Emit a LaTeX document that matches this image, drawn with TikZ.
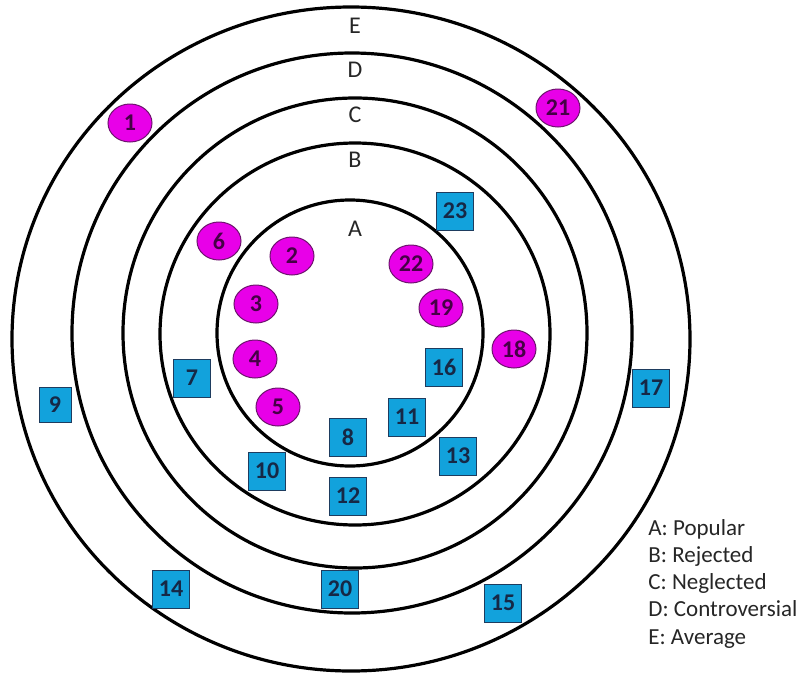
\documentclass[tikz,border=0pt]{standalone}
\usepackage{fontspec}
\setmainfont{Carlito}
\usepackage{tikz}
\usetikzlibrary{shapes.geometric}

\definecolor{pinkfill}{RGB}{232,0,232}
\definecolor{pinkline}{RGB}{110,20,110}
\definecolor{pinktext}{RGB}{70,0,70}
\definecolor{bluefill}{RGB}{18,162,220}
\definecolor{blueline}{RGB}{30,60,95}
\definecolor{bluetext}{RGB}{22,40,70}
\definecolor{keygray}{RGB}{38,38,38}

\begin{document}
\begin{tikzpicture}[x=0.5pt,y=-0.5pt,
	ring/.style={line width=1.6pt},
	circ/.style={ellipse, draw=pinkline, fill=pinkfill, line width=0.5pt, minimum width=22pt, minimum height=19pt, inner sep=0pt, text=pinktext, font=\fontsize{12}{12}\selectfont\bfseries},
	sq/.style={rectangle, draw=blueline, fill=bluefill, line width=0.5pt, minimum width=18.5pt, minimum height=19pt, inner sep=0pt, text=bluetext, font=\fontsize{12}{12}\selectfont\bfseries},
	lvl/.style={inner sep=0pt, text=keygray, font=\fontsize{12}{12}\selectfont},
	key/.style={anchor=base west, inner sep=0pt, text=keygray, font=\fontsize{11.5}{12}\selectfont}]
	\useasboundingbox (0,0) rectangle (798,675);
	% rings
	\draw[ring] (351,339) ellipse [x radius=339, y radius=332];
	\draw[ring] (352,333) ellipse [x radius=280, y radius=280];
	\draw[ring] (355,333) ellipse [x radius=232, y radius=235];
	\draw[ring] (355,334) ellipse [x radius=195, y radius=191];
	\draw[ring] (350,333) ellipse [x radius=133, y radius=133];
	\node[lvl] (labE) at (355,26) {E};
	\node[lvl] (labD) at (355,70) {D};
	\node[lvl] (labC) at (355,115) {C};
	\node[lvl] (labB) at (355,160) {B};
	\node[lvl] (labA) at (355,229) {A};
	% pink ones
	\node[circ] (p1) at (130,123) {1};
	\node[circ] (p2) at (292,256) {2};
	\node[circ] (p3) at (256,304) {3};
	\node[circ] (p4) at (255,359) {4};
	\node[circ] (p5) at (278,407) {5};
	\node[circ] (p6) at (219,241) {6};
	\node[circ] (p18) at (514,349) {18};
	\node[circ] (p19) at (441,308) {19};
	\node[circ] (p21) at (558,108) {21};
	\node[circ] (p22) at (411,264) {22};
	% blue ones
	\node[sq] (b7) at (192,378) {7};
	\node[sq] (b8) at (348,437) {8};
	\node[sq, minimum width=16pt, minimum height=17.5pt] (b9) at (55,405) {9};
	\node[sq] (b10) at (267,471) {10};
	\node[sq] (b11) at (407,417) {11};
	\node[sq] (b12) at (348,496) {12};
	\node[sq] (b13) at (458,456) {13};
	\node[sq] (b14) at (171,589) {14};
	\node[sq] (b15) at (503,603) {15};
	\node[sq] (b16) at (444,367) {16};
	\node[sq] (b17) at (651,388) {17};
	\node[sq] (b20) at (340,589) {20};
	\node[sq] (b23) at (455,211) {23};
	% key
	\node[key] (keyA) at (648,535) {A: Popular};
	\node[key] (keyB) at (648,562) {B: Rejected};
	\node[key] (keyC) at (648,589) {C: Neglected};
	\node[key] (keyD) at (648,616) {D: Controversial};
	\node[key] (keyE) at (648,644) {E: Average};
\end{tikzpicture}
\end{document}
